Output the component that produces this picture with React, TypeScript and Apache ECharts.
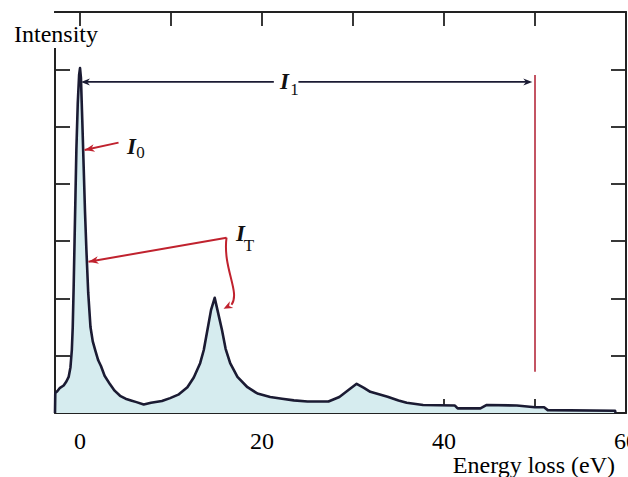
import React, { useEffect, useRef } from "react";
import * as echarts from "echarts";

// ---- spectrum data (energy loss in eV, intensity in arbitrary units) ----
const energyLoss = [
  -2.75, -2.72, -2.5, -2.2, -1.8, -1.5, -1.25, -1.05, -0.9, -0.8, -0.7, -0.6, -0.5, -0.4, -0.25, -0.1,
  0, 0.1, 0.25, 0.4, 0.55, 0.7, 0.9, 1.15, 1.4, 1.7, 2.0, 2.3, 2.7, 3.3, 3.8, 4.4, 5.0, 5.6, 6.2,
  7.0, 7.8, 9.0, 9.9, 10.8, 11.8, 12.5, 13.2, 13.6, 14.0, 14.4, 14.8, 15.1, 15.6, 16.0, 16.5, 17.3,
  18.4, 19.5, 20.9, 22.2, 23.5, 25.0, 27.3, 28.5, 29.5, 30.4, 31.2, 31.9, 33.8, 35.0, 35.9, 37.7,
  41.2, 41.5, 44.0, 44.7, 48.0, 50.0, 51.0, 51.4, 58.8, 58.85,
];
const intensity = [
  0, 0.35, 0.38, 0.44, 0.48, 0.55, 0.63, 0.8, 1.1, 1.5, 2.2, 3.0, 3.8, 4.6, 5.4, 5.9,
  6.02, 5.85, 5.1, 4.3, 3.5, 2.85, 2.1, 1.5, 1.25, 1.08, 0.92, 0.82, 0.65, 0.5, 0.39, 0.3, 0.25, 0.22, 0.19,
  0.15, 0.18, 0.21, 0.26, 0.32, 0.45, 0.62, 0.87, 1.1, 1.45, 1.8, 2.01, 1.8, 1.45, 1.12, 0.87, 0.63,
  0.45, 0.34, 0.28, 0.25, 0.22, 0.2, 0.2, 0.28, 0.4, 0.51, 0.44, 0.37, 0.285, 0.22, 0.18, 0.14,
  0.13, 0.08, 0.08, 0.14, 0.13, 0.1, 0.1, 0.05, 0.04, 0,
];

// ---- axes ----
const xTickValues = [0, 10, 20, 30, 40, 50];
const xLabelValues = [0, 20, 40, 60];
const X_MIN = -2.75;
const X_MAX = 60;
const Y_MIN = 0;
const Y_MAX = 7;
const Y_STEP = 1;
const xAxisTitle = "Energy loss (eV)";
const yAxisTitle = "Intensity";

// ---- annotations (data coordinates) ----
const i1Level = 5.78;
const i1Left = [0.1, 21.3];
const i1Right = [24.0, 49.7];
const i1Label = { x: 22.47, y: 5.78, sub: "1", subX: 23.57, subY: 5.64 };
const edgeX = 50;
const edgeTop = 5.9;
const edgeBottom = 0.72;
const i0Label = { x: 5.66, y: 4.66, sub: "0", subX: 6.65, subY: 4.55 };
const i0Arrow = { from: [4.23, 4.72], to: [0.5, 4.59] };
const itLabel = { x: 17.64, y: 3.14, sub: "T", subX: 18.55, subY: 2.93 };
const itArrow1 = { from: [16.1, 3.06], to: [0.93, 2.64] };
const itArrow2 = {
  from: [16.1, 3.06],
  cp1: [15.66, 2.53],
  cp2: [17.64, 2.11],
  end: [16.65, 1.89],
  tip: [15.77, 1.82],
};

const INK = "#1b1b33";
const RED = "#c0222e";
const SERIF = "'Liberation Serif', 'DejaVu Serif', serif";

export default function App() {
  const ref = useRef<HTMLDivElement>(null);

  useEffect(() => {
    if (!ref.current) return;
    const chart = echarts.init(ref.current, undefined, { renderer: "svg" });

    const frameLine = { show: true, onZero: false, lineStyle: { color: "#222", width: 2 } };
    const tickStyle = { color: "#222", width: 1.8 };

    const data = energyLoss.map((e, i) => [e, intensity[i]]);

    chart.setOption({
      animation: false,
      backgroundColor: "#fff",
      grid: { left: 55, right: 2, top: 12, bottom: 64, outerBoundsMode: "none", containLabel: false },
      xAxis: [
        {
          type: "value",
          min: X_MIN,
          max: X_MAX,
          position: "bottom",
          axisLine: frameLine,
          axisTick: { show: true, inside: true, length: 14, customValues: xTickValues, lineStyle: tickStyle },
          axisLabel: {
            customValues: xLabelValues,
            margin: 16,
            fontSize: 24,
            fontFamily: SERIF,
            color: "#000",
          },
          splitLine: { show: false },
        },
        {
          type: "value",
          min: X_MIN,
          max: X_MAX,
          position: "top",
          axisLine: frameLine,
          axisTick: { show: true, inside: true, length: 14, customValues: xTickValues, lineStyle: tickStyle },
          axisLabel: { show: false },
          splitLine: { show: false },
        },
      ],
      yAxis: [
        {
          type: "value",
          min: Y_MIN,
          max: Y_MAX,
          interval: Y_STEP,
          position: "left",
          axisLine: frameLine,
          axisTick: { show: true, inside: true, length: 15, lineStyle: tickStyle },
          axisLabel: { show: false },
          splitLine: { show: false },
        },
        {
          type: "value",
          min: Y_MIN,
          max: Y_MAX,
          interval: Y_STEP,
          position: "right",
          axisLine: frameLine,
          axisTick: { show: true, inside: true, length: 15, lineStyle: tickStyle },
          axisLabel: { show: false },
          splitLine: { show: false },
        },
      ],
      series: [
        {
          type: "line",
          data,
          showSymbol: false,
          symbol: "none",
          smooth: false,
          lineStyle: { color: INK, width: 2.6, join: "round" },
          areaStyle: { color: "#d6ecef", opacity: 1 },
          z: 3,
        },
      ],
    });

    const P = (p: number[]) => chart.convertToPixel({ gridIndex: 0 }, p) as number[];

    const head = (tipD: number[], fromPx: number[], color: string, L = 10, W = 3.8) => {
      const t = P(tipD);
      const dx = t[0] - fromPx[0];
      const dy = t[1] - fromPx[1];
      const len = Math.hypot(dx, dy) || 1;
      const ux = dx / len;
      const uy = dy / len;
      const nx = -uy;
      const ny = ux;
      return {
        type: "polygon",
        z: 60,
        shape: {
          points: [
            [t[0], t[1]],
            [t[0] - L * ux + W * nx, t[1] - L * uy + W * ny],
            [t[0] - L * 0.7 * ux, t[1] - L * 0.7 * uy],
            [t[0] - L * ux - W * nx, t[1] - L * uy - W * ny],
          ],
        },
        style: { fill: color },
      };
    };

    const seg = (a: number[], b: number[], color: string, w: number) => {
      const pa = P(a);
      const pb = P(b);
      return {
        type: "line",
        z: 55,
        shape: { x1: pa[0], y1: pa[1], x2: pb[0], y2: pb[1] },
        style: { stroke: color, lineWidth: w },
      };
    };

    const label = (l: { x: number; y: number; sub: string; subX: number; subY: number }) => {
      const a = P([l.x, l.y]);
      const b = P([l.subX, l.subY]);
      return [
        {
          type: "text",
          z: 70,
          x: a[0],
          y: a[1],
          style: {
            text: "I",
            font: `italic bold 23px ${SERIF}`,
            fill: "#111",
            align: "center",
            verticalAlign: "middle",
          },
        },
        {
          type: "text",
          z: 70,
          x: b[0],
          y: b[1],
          style: {
            text: l.sub,
            font: `17px ${SERIF}`,
            fill: "#111",
            align: "center",
            verticalAlign: "middle",
          },
        },
      ];
    };

    const i1L0 = P([i1Left[0], i1Level]);
    const i1R1 = P([i1Right[1], i1Level]);
    const i0From = P(i0Arrow.from);
    const it1From = P(itArrow1.from);
    const b0 = P(itArrow2.from);
    const b1 = P(itArrow2.cp1);
    const b2 = P(itArrow2.cp2);
    const b3 = P(itArrow2.end);

    const graphics: any[] = [
      // I1 span arrow
      seg([i1Left[0] + 0.6, i1Level], [i1Left[1], i1Level], INK, 1.6),
      seg([i1Right[0], i1Level], [i1Right[1] - 0.6, i1Level], INK, 1.6),
      head([i1Left[0], i1Level], [i1L0[0] + 20, i1L0[1]], INK, 9, 3.5),
      head([i1Right[1], i1Level], [i1R1[0] - 20, i1R1[1]], INK, 9, 3.5),
      ...label(i1Label),
      // edge marker
      seg([edgeX, edgeTop], [edgeX, edgeBottom], "#b52a3c", 1.6),
      // I0
      seg(i0Arrow.from, i0Arrow.to, RED, 2),
      head(i0Arrow.to, i0From, RED),
      ...label(i0Label),
      // IT
      seg(itArrow1.from, itArrow1.to, RED, 2),
      head(itArrow1.to, it1From, RED),
      {
        type: "bezierCurve",
        z: 55,
        shape: { x1: b0[0], y1: b0[1], cpx1: b1[0], cpy1: b1[1], cpx2: b2[0], cpy2: b2[1], x2: b3[0], y2: b3[1] },
        style: { stroke: RED, lineWidth: 2, fill: null },
      },
      head(itArrow2.tip, b3, RED, 9, 3.8),
      ...label(itLabel),
      // y axis title with white backing that interrupts the left frame
      { type: "rect", z: 80, shape: { x: 5, y: 13, width: 62, height: 35 }, style: { fill: "#fff" } },
      {
        type: "text",
        z: 90,
        x: 14,
        y: 34,
        style: { text: yAxisTitle, font: `24px ${SERIF}`, fill: "#000", align: "left", verticalAlign: "middle" },
      },
      {
        type: "text",
        z: 90,
        x: 615,
        y: 465,
        style: { text: xAxisTitle, font: `24px ${SERIF}`, fill: "#000", align: "right", verticalAlign: "middle" },
      },
    ];

    chart.setOption({ graphic: graphics });

    return () => chart.dispose();
  }, []);

  return (
    <div
      ref={ref}
      style={{ position: "fixed", left: 0, top: 0, width: 628, height: 477, background: "#fff" }}
    />
  );
}
